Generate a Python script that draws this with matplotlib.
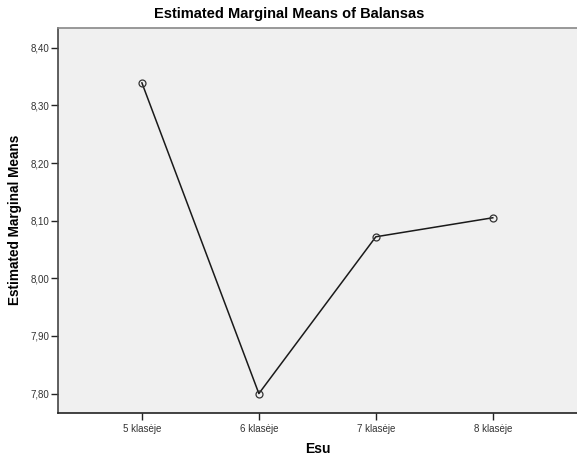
import matplotlib
matplotlib.use('Agg')
import matplotlib.pyplot as plt
from matplotlib.ticker import FuncFormatter

plt.rcParams['font.family'] = ['Liberation Sans', 'DejaVu Sans']

# data
categories = ['5 klasėje', '6 klasėje', '7 klasėje', '8 klasėje']
means = [8.339, 7.800, 8.072, 8.105]
y_ticks = [7.80, 7.90, 8.00, 8.10, 8.20, 8.30, 8.40]

fig = plt.figure(figsize=(5.77, 4.61), dpi=100)
ax = fig.add_axes([0.1, 0.105, 0.9, 0.834])
ax.set_facecolor('#f0f0f0')

x = list(range(len(categories)))
ax.plot(x, means, color='#1a1a1a', linewidth=1.1, marker='o', markersize=5,
        markerfacecolor='none', markeredgecolor='#333333', markeredgewidth=0.9)

ax.set_xlim(-0.72, 3.72)
ax.set_ylim(7.767, 8.434)
ax.set_xticks(x)
ax.set_xticklabels(categories)
ax.set_yticks(y_ticks)
ax.yaxis.set_major_formatter(FuncFormatter(lambda v, p: f'{v:.2f}'.replace('.', ',')))

ax.tick_params(axis='both', direction='out', length=5, width=1, labelsize=7,
               colors='#222222', labelcolor='#333333')
ax.tick_params(axis='y', pad=1)
ax.tick_params(axis='x', pad=3)

ax.spines['left'].set_color('#444444')
ax.spines['bottom'].set_color('#222222')
ax.spines['top'].set_color('#888888')
ax.spines['right'].set_visible(False)
for s in ['left', 'bottom', 'top']:
    ax.spines[s].set_linewidth(1.2)

fig.text(0.502, 0.97, 'Estimated Marginal Means of Balansas', ha='center', va='center',
         fontsize=10.5, fontweight='bold')
fig.text(0.551, 0.026, 'Esu', ha='center', va='center', fontsize=10, fontweight='bold')
fig.text(0.026, 0.522, 'Estimated Marginal Means', ha='center', va='center',
         rotation=90, fontsize=9.8, fontweight='bold')

fig.savefig('out.png', dpi=100)
